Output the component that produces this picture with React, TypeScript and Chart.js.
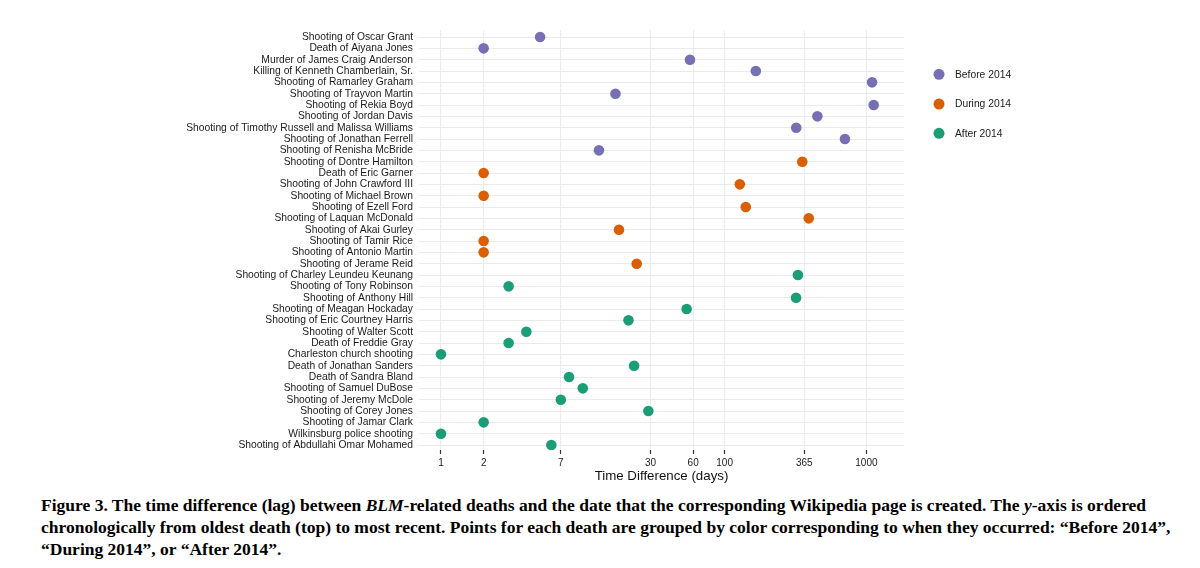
import React, { useEffect, useRef } from "react";
import { Chart, registerables } from "chart.js";

Chart.register(...registerables);

const deaths: string[] = [
  "Shooting of Oscar Grant",
  "Death of Aiyana Jones",
  "Murder of James Craig Anderson",
  "Killing of Kenneth Chamberlain, Sr.",
  "Shooting of Ramarley Graham",
  "Shooting of Trayvon Martin",
  "Shooting of Rekia Boyd",
  "Shooting of Jordan Davis",
  "Shooting of Timothy Russell and Malissa Williams",
  "Shooting of Jonathan Ferrell",
  "Shooting of Renisha McBride",
  "Shooting of Dontre Hamilton",
  "Death of Eric Garner",
  "Shooting of John Crawford III",
  "Shooting of Michael Brown",
  "Shooting of Ezell Ford",
  "Shooting of Laquan McDonald",
  "Shooting of Akai Gurley",
  "Shooting of Tamir Rice",
  "Shooting of Antonio Martin",
  "Shooting of Jerame Reid",
  "Shooting of Charley Leundeu Keunang",
  "Shooting of Tony Robinson",
  "Shooting of Anthony Hill",
  "Shooting of Meagan Hockaday",
  "Shooting of Eric Courtney Harris",
  "Shooting of Walter Scott",
  "Death of Freddie Gray",
  "Charleston church shooting",
  "Death of Jonathan Sanders",
  "Death of Sandra Bland",
  "Shooting of Samuel DuBose",
  "Shooting of Jeremy McDole",
  "Shooting of Corey Jones",
  "Shooting of Jamar Clark",
  "Wilkinsburg police shooting",
  "Shooting of Abdullahi Omar Mohamed",
];

const lagDays: number[] = [
  5, 2, 57, 166, 1096, 17, 1125, 451, 320, 706, 13,
  353, 2, 128, 2, 141, 392, 18, 2, 2, 24,
  329, 3, 319, 54, 21, 4, 3, 1, 23, 8, 10, 7, 29, 2, 1, 6,
];

const periods: string[] = [
  "Before 2014", "Before 2014", "Before 2014", "Before 2014", "Before 2014", "Before 2014",
  "Before 2014", "Before 2014", "Before 2014", "Before 2014", "Before 2014",
  "During 2014", "During 2014", "During 2014", "During 2014", "During 2014",
  "During 2014", "During 2014", "During 2014", "During 2014", "During 2014",
  "After 2014", "After 2014", "After 2014", "After 2014", "After 2014", "After 2014",
  "After 2014", "After 2014", "After 2014", "After 2014", "After 2014", "After 2014",
  "After 2014", "After 2014", "After 2014", "After 2014",
];

const groupNames: string[] = ["Before 2014", "During 2014", "After 2014"];
const groupColors: string[] = ["#7570b3", "#d95f02", "#1b9e77"];

const xTicks: number[] = [1, 2, 7, 30, 60, 100, 365, 1000];

const FONT = "'Liberation Sans', Arial, Helvetica, sans-serif";

const legendPlugin = {
  id: "customLegend",
  afterDraw(chart: any) {
    const ctx = chart.ctx;
    ctx.save();
    const x0 = 939;
    const ys = [74.3, 104, 133.3];
    chart.data.datasets.forEach((ds: any, i: number) => {
      ctx.beginPath();
      ctx.fillStyle = ds.backgroundColor;
      ctx.arc(x0, ys[i], 5.5, 0, Math.PI * 2);
      ctx.fill();
      ctx.fillStyle = "#1a1a1a";
      ctx.font = `10.3px ${FONT}`;
      ctx.textAlign = "left";
      ctx.textBaseline = "middle";
      ctx.fillText(ds.label, 955, ys[i] + 0.5);
    });
    ctx.restore();
  },
};

export default function App() {
  const canvasRef = useRef<HTMLCanvasElement | null>(null);

  useEffect(() => {
    if (!canvasRef.current) return;
    const datasets = groupNames.map((g, gi) => ({
      label: g,
      data: deaths
        .map((_, i) => ({ x: lagDays[i], y: i, p: periods[i] }))
        .filter((d) => d.p === g)
        .map((d) => ({ x: d.x, y: d.y })),
      backgroundColor: groupColors[gi],
      borderColor: groupColors[gi],
      borderWidth: 0,
      pointRadius: 5.3,
      pointHoverRadius: 5.3,
    }));

    const chart = new Chart(canvasRef.current, {
      type: "scatter",
      data: { datasets },
      plugins: [legendPlugin],
      options: {
        animation: false,
        responsive: false,
        maintainAspectRatio: false,
        layout: { padding: { top: 30, right: 296, bottom: 0, left: 0 } },
        plugins: {
          legend: { display: false },
          tooltip: { enabled: false },
        },
        scales: {
          x: {
            type: "logarithmic",
            min: 0.7,
            max: 1841,
            afterBuildTicks: (axis: any) => {
              axis.ticks = xTicks.map((v) => ({ value: v }));
            },
            afterFit: (axis: any) => {
              axis.height = 40;
            },
            border: { display: false },
            grid: {
              color: "#ebebeb",
              lineWidth: 1,
              drawTicks: true,
              tickLength: 4,
              tickColor: "#333333",
              tickWidth: 1.2,
            },
            ticks: {
              autoSkip: false,
              maxRotation: 0,
              padding: 3,
              color: "#1a1a1a",
              font: { family: FONT, size: 10 },
              callback: (v: any) => String(v),
            },
            title: {
              display: true,
              text: "Time Difference (days)",
              color: "#111111",
              font: { family: FONT, size: 13.3 },
              padding: { top: 0, bottom: 6 },
            },
          },
          y: {
            type: "linear",
            reverse: true,
            min: -0.62,
            max: 36.44,
            afterBuildTicks: (axis: any) => {
              axis.ticks = deaths.map((_, i) => ({ value: i }));
            },
            afterFit: (axis: any) => {
              axis.width = 419;
            },
            border: { display: false },
            grid: {
              color: "#ebebeb",
              lineWidth: 1,
              drawTicks: false,
            },
            ticks: {
              autoSkip: false,
              padding: 6,
              color: "#1a1a1a",
              font: { family: FONT, size: 10.3 },
              callback: (v: any) => deaths[v as number] ?? "",
            },
          },
        },
      },
    });
    return () => chart.destroy();
  }, []);

  return (
    <div style={{ position: "absolute", left: 0, top: 0, width: 1200, height: 568, background: "#fff" }}>
      <canvas
        ref={canvasRef}
        width={1200}
        height={490}
        style={{ position: "absolute", left: 0, top: 0, width: 1200, height: 490 }}
      />
      <div
        style={{
          position: "absolute",
          left: 41,
          top: 494,
          fontFamily: "'Liberation Serif', 'Times New Roman', Times, serif",
          fontWeight: "bold",
          fontSize: 17.5,
          lineHeight: "22px",
          color: "#000",
          whiteSpace: "nowrap",
        }}
      >
        <div>
          Figure 3. The time difference (lag) between <i>BLM</i>-related deaths and the date that the corresponding Wikipedia page is created. The <i>y</i>-axis is ordered
        </div>
        <div>
          chronologically from oldest death (top) to most recent. Points for each death are grouped by color corresponding to when they occurred: “Before 2014”,
        </div>
        <div>“During 2014”, or “After 2014”.</div>
      </div>
    </div>
  );
}
